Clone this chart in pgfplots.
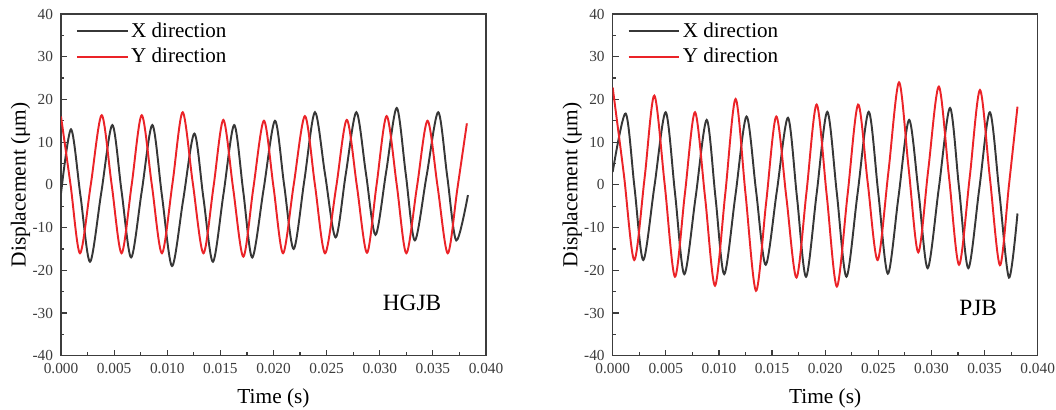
\documentclass[border=0pt]{standalone}
\usepackage{fontspec}
\setmainfont{Liberation Serif}
\usepackage{pgfplots}
\usepackage{pgfplotstable}
\pgfplotsset{compat=1.18}

\definecolor{xdir}{RGB}{55,55,55}
\definecolor{ydir}{RGB}{235,35,40}
\definecolor{axgray}{RGB}{60,60,60}

% time in ms, displacement in um
\pgfplotstableread{
t v
0 -2
0.94 13
1.83 -2.5
2.73 -18
3.78 -2
4.83 14
5.7 -1.5
6.6 -17
7.6 -1.5
8.6 14
9.5 -2.5
10.45 -19
11.5 -3.5
12.55 12
13.4 -3
14.3 -18
15.3 -2
16.3 14
17.15 -1.5
18.0 -17
19.07 -1
20.14 15
21.0 0
21.9 -15
22.9 1
23.9 17
24.85 2.5
25.85 -12.3
26.8 2.5
27.8 17
28.7 2.7
29.6 -11.7
30.6 3
31.6 18
32.45 2.5
33.3 -13
34.4 2
35.5 17
36.35 2
37.2 -13
38.3 -2.4
}\hgjbX

\pgfplotstableread{
t v
0 16
0.9 0
1.79 -16
2.8 0
3.83 16.3
4.77 0
5.7 -16
6.65 0
7.6 16.3
8.55 0
9.5 -16
10.5 0.5
11.45 17
12.4 0.5
13.4 -16
14.35 -0.5
15.28 15.2
16.2 -0.8
17.16 -16.8
18.1 -0.8
19.1 15
20.0 -0.5
20.9 -16
21.9 0
22.96 16.1
23.9 0
24.85 -16
25.9 -0.5
26.9 15.2
27.85 -0.3
28.8 -15.9
29.7 0
30.65 16.1
31.6 0
32.5 -16
33.5 -0.5
34.5 15
35.45 -0.5
36.4 -16
37.3 -1
38.2 14.4
}\hgjbY

\pgfplotstableread{
t v
0 3
1.22 16.7
2.05 -0.5
2.88 -17.6
3.93 -0.3
4.99 17
5.87 -2
6.74 -20.9
7.8 -3
8.85 15.2
9.68 -3
10.5 -20.9
11.55 -2.5
12.6 16
13.5 -1.5
14.4 -18.7
15.45 -1.5
16.5 15.7
17.35 -3
18.2 -21.5
19.2 -2
20.2 17.1
21.1 -2
22.0 -21.5
23.05 -2
24.1 17.1
25.0 -2
25.9 -20.8
26.9 -2.8
27.9 15.2
28.8 -2
29.65 -19.5
30.7 -0.7
31.75 18
32.6 -0.7
33.47 -19.5
34.5 -1
35.5 17
36.4 -2
37.3 -21.7
38.1 -6.7
}\pjbX

\pgfplotstableread{
t v
0 22.8
1.05 2.5
2.03 -17.6
3.0 1.5
3.92 20.9
4.9 0
5.86 -21.5
6.8 -2
7.75 17
8.7 -3
9.63 -23.6
10.6 -2
11.57 20.1
12.5 -2
13.49 -24.8
14.45 -4
15.4 16
16.35 -3
17.3 -21.7
18.25 -1.5
19.2 18.8
20.15 -2.5
21.1 -23.8
22.1 -2.5
23.1 18.8
24.0 0.6
24.94 -17.6
25.95 3
26.95 24
27.85 4
28.76 -15.8
29.7 3.5
30.7 23
31.65 2
32.6 -18.7
33.6 1.7
34.57 22.2
35.5 1.7
36.45 -18.8
37.3 0
38.1 18.3
}\pjbY

\pgfplotsset{
  dispaxis/.style={
    scale only axis, width=318.75pt, height=256.3pt,
    xmin=0, xmax=0.04, ymin=-40, ymax=40,
    xtick={0,0.005,0.01,0.015,0.02,0.025,0.03,0.035,0.04},
    ytick={-40,-30,-20,-10,0,10,20,30,40},
    minor x tick num=1, minor y tick num=1,
    xtick pos=bottom, ytick pos=left,
    tick align=inside,
    major tick length=4.5pt, minor tick length=2.5pt,
    scaled x ticks=false,
    /pgf/number format/assume math mode=true,
    tick label style={font=\fontsize{11.5}{13}\selectfont, text=axgray},
    xticklabel style={yshift=-2.5pt, /pgf/number format/fixed,
      /pgf/number format/fixed zerofill, /pgf/number format/precision=3},
    yticklabel style={xshift=-2.5pt},
    axis line style={axgray, line width=1.1pt},
    every tick/.style={axgray, line width=0.9pt},
    xlabel={Time (s)}, ylabel={Displacement (μm)},
    label style={font=\fontsize{16}{18}\selectfont},
    xlabel style={at={(axis description cs:0.5,-0.126)}, anchor=center},
    ylabel style={at={(axis description cs:-0.095,0.5)}, anchor=center},
    legend style={draw=none, fill=none, at={(axis description cs:0.025,0.99)},
      anchor=north west, font=\fontsize{15.8}{18}\selectfont, row sep=2.5pt},
    legend cell align=left,
    legend image code/.code={\draw[#1] (0pt,0pt) -- (38pt,0pt);},
  },
  xline/.style={xdir, line width=1.45pt, smooth},
  yline/.style={ydir, line width=1.45pt, smooth},
}

\begin{document}
\begin{tikzpicture}
\useasboundingbox (0,0) rectangle (792pt,307.5pt);

\begin{axis}[dispaxis, at={(45.75pt,40.7pt)}, anchor=south west]
\addplot[xline] table[x expr=\thisrow{t}/1000, y=v] {\hgjbX};
\addplot[yline] table[x expr=\thisrow{t}/1000, y=v] {\hgjbY};
\legend{X direction, Y direction}
\node[font=\fontsize{17.5}{20}\selectfont] at (axis description cs:0.826,0.155) {HGJB};
\end{axis}

\begin{axis}[dispaxis, at={(459.5pt,40.7pt)}, anchor=south west]
\addplot[xline] table[x expr=\thisrow{t}/1000, y=v] {\pjbX};
\addplot[yline] table[x expr=\thisrow{t}/1000, y=v] {\pjbY};
\legend{X direction, Y direction}
\node[font=\fontsize{17.5}{20}\selectfont] at (axis description cs:0.86,0.14) {PJB};
\end{axis}
\end{tikzpicture}
\end{document}
